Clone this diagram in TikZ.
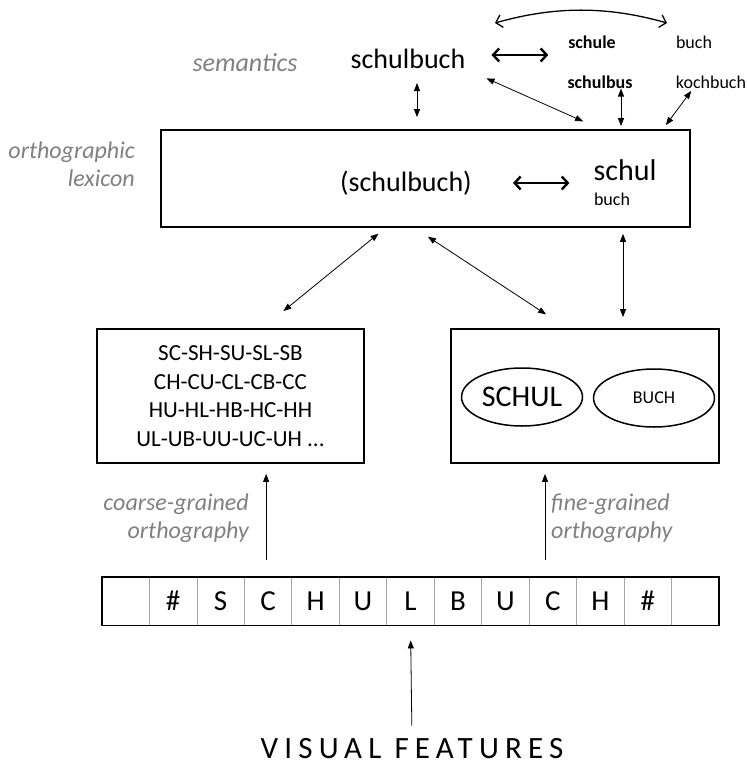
\documentclass[tikz,border=0pt]{standalone}
\usepackage{fontspec}
\setmainfont{Carlito}
\usetikzlibrary{arrows.meta,shapes.geometric}
\definecolor{lblgray}{RGB}{128,128,128}
\tikzset{
  lbl/.style={text=lblgray,font=\fontsize{24}{28}\selectfont\itshape,inner sep=0pt},
  word/.style={font=\fontsize{28}{32}\selectfont,inner sep=0pt},
  small/.style={font=\fontsize{18}{21}\selectfont,inner sep=0pt},
  smallbf/.style={font=\fontsize{18}{21}\selectfont\bfseries,inner sep=0pt},
  box/.style={draw,line width=1.8pt,inner sep=0pt},
  oval/.style={draw,ellipse,line width=1.5pt,inner sep=0pt,minimum width=121pt,minimum height=58pt},
  arr/.style={{Triangle[length=8pt,width=6pt]}-{Triangle[length=8pt,width=6pt]},line width=0.8pt},
  uparr/.style={-{Triangle[length=8pt,width=6pt]},line width=0.8pt},
  dbl/.style={{Straight Barb[length=6pt,width=13pt]}-{Straight Barb[length=6pt,width=13pt]},line width=2.4pt},
  cell/.style={draw=gray!70,line width=0.8pt,minimum width=47.46pt,minimum height=48pt,inner sep=0pt,font=\fontsize{29}{32}\selectfont}
}
\begin{document}
\begin{tikzpicture}[x=1pt,y=-1pt]
\useasboundingbox (0,0) rectangle (746,767);

\node[lbl,font=\fontsize{26}{30}\selectfont\itshape] (semantics) at (245,63) {semantics};
\node[word] (schulbuch) at (408,59) {schulbuch};
\node[smallbf] (schule) at (592,42) {schule};
\node[small] (buch) at (694,42) {buch};
\node[smallbf] (schulbus) at (600,82) {schulbus};
\node[small] (kochbuch) at (711,82) {kochbuch};

\coordinate (arcl) at (495,23);
\coordinate (arcr) at (667,23);

\node[lbl,align=right,anchor=east] (ortholex) at (135,164) {orthographic\\lexicon};
\node[box,minimum width=529pt,minimum height=97pt] (lexicon) at (425.5,178.5) {};
\node[word] (pschulbuch) at (406,183) {(schulbuch)};
\node[word,font=\fontsize{30}{34}\selectfont] (schul) at (625,170) {schul};
\node[small] (lexbuch) at (612,199) {buch};

\node[box,minimum width=267pt,minimum height=134pt,align=center,
  font=\fontsize{23}{28.5}\selectfont] (coarse) at (230.5,396)
  {SC-SH-SU-SL-SB\\CH-CU-CL-CB-CC\\HU-HL-HB-HC-HH\\UL-UB-UU-UC-UH ...};
\node[box,minimum width=268pt,minimum height=134pt] (fine) at (585,396) {};
\node[oval,font=\fontsize{30}{34}\selectfont] (schulE) at (522,397) {SCHUL};
\node[oval,font=\fontsize{18}{21}\selectfont] (buchE) at (654,398) {BUCH};

\node[lbl,align=right,anchor=east] (coarselbl) at (249,518) {coarse-grained\\orthography};
\node[lbl,align=left,anchor=west] (finelbl) at (551,518) {fine-grained\\orthography};

\foreach \l [count=\i from 0] in {{},\#,S,C,H,U,L,B,U,C,H,\#,{}}
  \node[cell] (c\i) at (125.73+47.46*\i,601) {\l};
\draw[line width=1.8pt] (c0.north west) rectangle (c12.south east);

\node[font=\fontsize{31}{36}\selectfont\addfontfeature{LetterSpace=20},inner sep=0pt] (vf) at (412,749) {VISUAL FEATURES};

\draw[{Straight Barb[length=6pt,width=13pt]}-{Straight Barb[length=6pt,width=13pt]},line width=1.3pt]
  (arcl) .. controls (555,6) and (607,6) .. (arcr);
\draw[dbl,shorten <=26pt,shorten >=19pt] ([yshift=4pt]schulbuch.east) -- ([yshift=4pt]schulbuch.east -| schulbus.west);
\draw[dbl,shorten <=41pt,shorten >=24pt] (pschulbuch.east) -- (pschulbuch.east -| schul.west);

\draw[arr,shorten <=14pt,shorten >=12pt] ([xshift=9pt]schulbuch.south) -- ([xshift=9pt]schulbuch.south |- lexicon.north);
\draw[arr,shorten <=23pt,shorten >=19pt] (schulbuch.south east) -- ([xshift=175pt]lexicon.north);
\draw[arr,shorten >=3pt] ([xshift=21pt]schulbus.south) -- ([xshift=21pt]schulbus.south |- lexicon.north);
\draw[arr,shorten <=3pt,shorten >=5pt] ([xshift=-18pt]kochbuch.south) -- ([xshift=-28pt]lexicon.north east);

\draw[arr,shorten <=9pt,shorten >=27pt] ([xshift=-40pt]lexicon.south) -- ([xshift=32pt]coarse.north);
\draw[arr,shorten <=16pt,shorten >=25pt] ([xshift=-11pt]lexicon.south) -- ([xshift=-18pt]fine.north);
\draw[arr,shorten <=6pt,shorten >=11pt] ([xshift=38pt]fine.north |- lexicon.south) -- ([xshift=38pt]fine.north);

\draw[uparr,shorten <=17pt,shorten >=10pt] ([xshift=-2pt]c3.north) -- ([xshift=-2pt]c3.north |- coarse.south);
\draw[uparr,shorten <=17pt,shorten >=10pt] ([xshift=-40pt]fine.south |- c9.north) -- ([xshift=-40pt]fine.south);
\draw[uparr,shorten <=13pt,shorten >=15pt] (vf.north) -- (c6.south);

\end{tikzpicture}
\end{document}
